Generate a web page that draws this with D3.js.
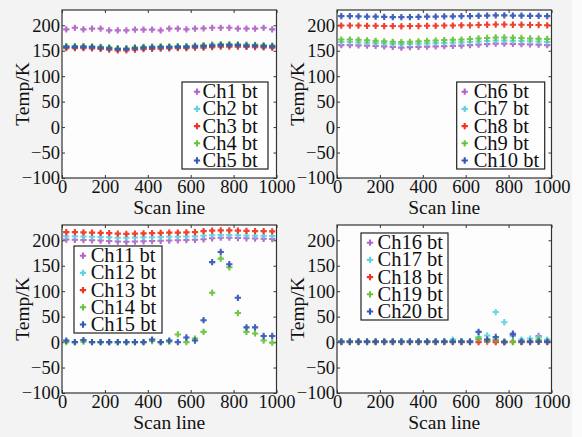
<!DOCTYPE html>
<html><head><meta charset="utf-8">
<script src="https://cdn.jsdelivr.net/npm/d3@7"></script>
<style>body{margin:0;background:#f5f5f5;}svg{display:block;}</style>
</head><body><svg id="c" width="582" height="437"></svg>
<script>
const scanLines = [20,60,100,140,180,220,260,300,340,380,420,460,500,540,580,620,660,700,740,780,820,860,900,940,980];
const xTicks = [0,200,400,600,800,1000];
const yTicks = [-100,-50,0,50,100,150,200];
const colors = ["#b263c8","#5fd3e3","#f0321e","#66c43a","#3356b8"];

// Panel 1
const ch1 = [192,195,192,193.5,193.5,190,190,190,191.5,191.5,191.5,190,193.5,193.5,192,193.5,194,195,195,195,193.5,193.5,193.5,195,192];
const ch2 = [157,157,157,156.5,155.5,154.5,153,153,154.5,155.5,156,156.5,156.5,157,157,158,158.5,159.5,160.5,160.5,160.5,159.5,159.5,158.5,158];
const ch3 = [155,155,155,154.5,153.5,152,150.5,150.5,152,153,153.5,154,154.5,155,155,156,156,157,158,158,158,157.5,157,156.5,156];
const ch4 = [159,159,159,158.5,157.5,156.5,155,155,156.5,157.5,158,158.5,158.5,159,159,160,161,162,163,163,162.5,162,161.5,161,160];
const ch5 = [157.5,157.5,157.5,157,156,155,153.5,153.5,155,156,156.5,157,157,157.5,157.5,158.5,159,160,161,161,161,160,160,159,158.5];
// Panel 2
const ch6 = [161,161,160.5,160,159.5,158.5,157.5,156,157,157.5,158,158.5,159,159.5,160,161,162,163,164,164,163.5,163,162.5,162,161];
const ch7 = [167,167,166.5,166,165.5,164.5,163.5,163,163.5,164,164.5,165,165.5,166,166.5,167,168,169,170,170,169.5,169,168.5,168,167];
const ch8 = [199.5,199.5,199.5,199,199,198.5,198.5,198,198.5,198.5,199,199,199.5,199.5,200,200,200.5,201,201.5,201.5,201,201,200.5,200.5,200];
const ch9 = [172,172,171.5,170.5,169.5,168.5,167.5,167,167.5,168.5,169.5,170,171,171.5,172,173,174,175,176,176,175.5,175,174,173.5,173];
const ch10 = [218,218,217.5,217,217,216.5,216,216,216,216.5,217,217,217.5,217.5,218,218,218.5,219,219.5,219.5,219,219,218.5,218.5,218];
// Panel 3
const ch11 = [201.5,201,200.5,200,199.5,198.5,197.5,197,197.5,198,198.5,199,199.5,200,200.5,201,202,204,205,205,204.5,204,203.5,203,202.5];
const ch12 = [208,208,207.5,207,206.5,206,205,205,205.5,206,206,206.5,207,207,207.5,208,209,210,210.5,210.5,210,209.5,209,209,208.5];
const ch13 = [216,216,215.5,215,214.5,214,213,212.5,213,213.5,214,214.5,215,215,215.5,216,218,219,219.5,219.5,219,218.5,218,218,217.5];
const ch14 = [0,0,1,0,0,0,0,0,0,0,2,0,1,15,0,7,20,97,164,147,57,20,17,3,-1];
const ch15 = [3,0,4,0,0,0,0,0,0,0,5,0,3,0,9,3,43,157,177,153,87,29,29,12,12];
// Panel 4
const ch16 = [1,1,1,1,1,1,1,1,1,1,1,1,1,1,1,1,5,3,4,1,17,1,1,12,1];
const ch17 = [1,1,1,1,1,1,1,1,1,1,1,1,1,5,1,1,10,13,59,39,12,5,7,10,5];
const ch18 = [0,0,0,0,0,0,0,0,0,0,0,0,0,0,0,0,0,1,0,0,1,0,0,1,0];
const ch19 = [1,1,1,1,1,1,1,1,1,1,1,1,1,1,1,1,7,3,5,1,0,1,1,5,1];
const ch20 = [1,1,1,1,1,1,1,1,1,1,1,1,1,1,1,1,20,5,10,0,15,1,1,1,1];

const panels = [
  {left:62, top:10, names:["Ch1 bt","Ch2 bt","Ch3 bt","Ch4 bt","Ch5 bt"], series:[ch1,ch2,ch3,ch4,ch5], leg:{x:120,y:72,w:86,m:15,t:20.5}},
  {left:337, top:10, names:["Ch6 bt","Ch7 bt","Ch8 bt","Ch9 bt","Ch10 bt"], series:[ch6,ch7,ch8,ch9,ch10], leg:{x:119.7,y:72,w:88,m:8,t:17}},
  {left:62, top:225, names:["Ch11 bt","Ch12 bt","Ch13 bt","Ch14 bt","Ch15 bt"], series:[ch11,ch12,ch13,ch14,ch15], leg:{x:12,y:21,w:88,m:9,t:16.7}},
  {left:337, top:225, names:["Ch16 bt","Ch17 bt","Ch18 bt","Ch19 bt","Ch20 bt"], series:[ch16,ch17,ch18,ch19,ch20], leg:{x:24,y:8,w:87,m:9,t:16.5}}
];

const W = 214.5, H = 168;
const svg = d3.select("#c");
svg.append("rect").attr("width",572).attr("height",437).attr("fill","#f3f3f3");
svg.append("rect").attr("x",572).attr("width",10).attr("height",437).attr("fill","#fbfbfb");
const font = "'Liberation Serif','Times New Roman',serif";
const marker = d3.symbol().type(d3.symbolCross).size(22);
const dot = d3.symbol().type(d3.symbolDiamond).size(9);

panels.forEach(p => {
  const g = svg.append("g").attr("transform",`translate(${p.left},${p.top})`);
  const x = d3.scaleLinear().domain([0,1000]).range([0,W]);
  const y = d3.scaleLinear().domain([-100,230]).range([H,0]);
  g.append("rect").attr("width",W).attr("height",H).attr("fill","#fdfdfd");

  const xb = g.append("g").attr("transform",`translate(0,${H})`)
    .call(d3.axisBottom(x).tickValues(xTicks).tickSize(-3).tickPadding(2).tickFormat(d3.format("d")));
  const xt = g.append("g").call(d3.axisTop(x).tickValues(xTicks).tickSize(-3).tickFormat(""));
  const yl = g.append("g").call(d3.axisLeft(y).tickValues(yTicks).tickSize(-3).tickPadding(2).tickFormat(d3.format("d")));
  const yr = g.append("g").attr("transform",`translate(${W},0)`).call(d3.axisRight(y).tickValues(yTicks).tickSize(-3).tickFormat(""));
  [xb,xt,yl,yr].forEach(a => {
    a.select(".domain").remove();
    a.selectAll(".tick line").attr("stroke","#333").attr("stroke-width",1);
    a.selectAll("text").attr("font-family",font).attr("font-size",18.5).attr("fill","#111");
  });
  xb.selectAll("text").attr("dy","0.72em");
  g.append("rect").attr("width",W).attr("height",H).attr("fill","none").attr("stroke","#333").attr("stroke-width",1.2);

  p.series.forEach((s,k) => {
    const sg = g.append("g").attr("fill",colors[k]).attr("opacity",0.92);
    sg.selectAll("path.m").data(s).join("path").attr("class","m")
      .attr("d",marker)
      .attr("transform",(v,i)=>`translate(${x(scanLines[i])},${y(v)})`);
    sg.selectAll("path.d").data(s).join("path").attr("class","d")
      .attr("d",dot)
      .attr("transform",(v,i)=>`translate(${x(scanLines[i])},${y(v)})`);
  });

  g.append("text").attr("x",W/2).attr("y",H+36).attr("text-anchor","middle")
    .attr("font-family",font).attr("font-size",19.5).attr("fill","#111").text("Scan line");
  g.append("text").attr("transform",`translate(-33,${H/2})rotate(-90)`).attr("text-anchor","middle")
    .attr("font-family",font).attr("font-size",19.5).attr("fill","#111").text("Temp/K");

  const L = p.leg;
  const lg = g.append("g").attr("transform",`translate(${L.x},${L.y})`);
  lg.append("rect").attr("width",L.w).attr("height",87)
    .attr("fill","#fefefe").attr("stroke","#222").attr("stroke-width",1.2);
  p.names.forEach((n,k) => {
    const cy = 9.7 + 17.2*k;
    lg.append("path").attr("d",marker).attr("transform",`translate(${L.m},${cy})`).attr("fill",colors[k]);
    lg.append("text").attr("x",L.t).attr("y",cy+6.5).attr("font-family",font).attr("font-size",20.5).attr("fill","#111").text(n);
  });
});
</script></body></html>
